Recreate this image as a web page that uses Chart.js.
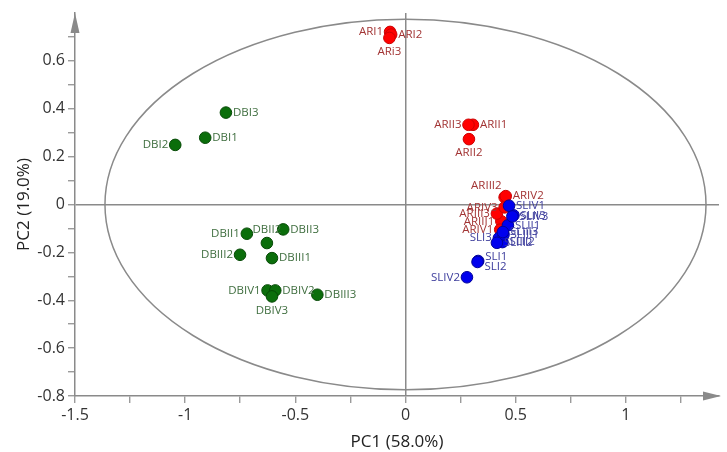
<!DOCTYPE html>
<html>
<head>
<meta charset="utf-8">
<script src="https://cdn.jsdelivr.net/npm/chart.js@4"></script>
<style>
  html, body { margin: 0; padding: 0; background: #fff; }
  #wrap { width: 727px; height: 452px; }
</style>
</head>
<body>
<div id="wrap"><canvas id="pcaChart" width="727" height="452"></canvas></div>
<script>
// Sample scores (PC1, PC2)
const greenNames = ['DBI1', 'DBI2', 'DBI3', 'DBII1', 'DBII2', 'DBII3', 'DBIII1', 'DBIII2', 'DBIII3', 'DBIV1', 'DBIV2', 'DBIV3'];
const greenX = [-0.909, -1.045, -0.815, -0.72, -0.629, -0.555, -0.606, -0.751, -0.40, -0.626, -0.591, -0.606];
const greenY = [0.279, 0.249, 0.384, -0.122, -0.161, -0.104, -0.224, -0.21, -0.377, -0.359, -0.359, -0.384];

const redNames = ['ARI1', 'ARI2', 'ARi3', 'ARII1', 'ARII2', 'ARII3', 'ARIII1', 'ARIII2', 'ARIII3', 'ARIV1', 'ARIV2', 'ARIV3'];
const redX = [-0.07, -0.065, -0.073, 0.306, 0.288, 0.286, 0.435, 0.45, 0.415, 0.43, 0.455, 0.45];
const redY = [0.721, 0.71, 0.696, 0.333, 0.273, 0.333, -0.07, 0.03, -0.038, -0.105, 0.035, -0.012];

const blueNames = ['SLI1', 'SLI2', 'SLI3', 'SLII1', 'SLII2', 'SLII3', 'SLIII1', 'SLIII2', 'SLIII3', 'SLIV1', 'SLIV2', 'SLIV3'];
const blueX = [0.33, 0.327, 0.424, 0.465, 0.44, 0.49, 0.445, 0.415, 0.442, 0.47, 0.279, 0.485];
const blueY = [-0.236, -0.24, -0.14, -0.087, -0.157, -0.045, -0.125, -0.16, -0.115, -0.005, -0.304, -0.05];

// Hotelling ellipse half-axes (PC1, PC2)
const ellipseRx = 1.364;
const ellipseRy = 0.774;

// where each label sits next to its point: r, l, t, b, tl, ru, rd
const greenSide = ['r', 'l', 'r', 'l', 't', 'r', 'r', 'l', 'r', 'l', 'r', 'b'];
const redSide = ['l', 'r', 'b', 'r', 'b', 'l', 'l', 'tl', 'l', 'l', 'r', 'l'];
const blueSide = ['ru', 'rd', 'l', 'r', 'r', 'r', 'r', 'r', 'r', 'r', 'l', 'r'];

const axisGray = '#8a8a8a';
const baseFont = '"Open Sans", "Noto Sans", sans-serif';

function toPoints(xs, ys) {
  return xs.map((x, i) => ({ x: x, y: ys[i] }));
}

// Ellipse, arrows on the axes
const decorPlugin = {
  id: 'decor',
  beforeDatasetsDraw(chart) {
    const c = chart.ctx;
    const xs = chart.scales.x, ys = chart.scales.y;
    const cx = xs.getPixelForValue(0), cy = ys.getPixelForValue(0);
    const rx = xs.getPixelForValue(ellipseRx) - cx;
    const ry = cy - ys.getPixelForValue(ellipseRy);
    c.save();
    c.strokeStyle = axisGray;
    c.lineWidth = 1.5;
    c.beginPath();
    c.ellipse(cx, cy, rx, ry, 0, 0, Math.PI * 2);
    c.stroke();
    c.restore();
  },
  afterDraw(chart) {
    const c = chart.ctx;
    const a = chart.chartArea;
    c.save();
    c.fillStyle = axisGray;
    // y arrow
    c.beginPath();
    c.moveTo(a.left, a.top);
    c.lineTo(a.left - 4.5, a.top + 20);
    c.lineTo(a.left + 4.5, a.top + 20);
    c.closePath();
    c.fill();
    // x arrow
    c.beginPath();
    c.moveTo(a.right + 2, a.bottom);
    c.lineTo(a.right - 16, a.bottom - 4.5);
    c.lineTo(a.right - 16, a.bottom + 4.5);
    c.closePath();
    c.fill();
    c.restore();
  }
};

// Sample name next to each point
const labelPlugin = {
  id: 'pointLabels',
  afterDatasetsDraw(chart) {
    const c = chart.ctx;
    c.save();
    c.font = '11.5px ' + baseFont;
    chart.data.datasets.forEach((ds, di) => {
      const meta = chart.getDatasetMeta(di);
      c.fillStyle = ds.labelColor;
      meta.data.forEach((pt, i) => {
        const side = ds.sides[i];
        let x = pt.x, y = pt.y;
        c.textBaseline = 'middle';
        if (side === 'r') { c.textAlign = 'left'; x += 7; }
        else if (side === 'ru') { c.textAlign = 'left'; x += 7; y -= 4; }
        else if (side === 'rd') { c.textAlign = 'left'; x += 7; y += 5; }
        else if (side === 'l') { c.textAlign = 'right'; x -= 7; }
        else if (side === 't') { c.textAlign = 'center'; y -= 13; }
        else if (side === 'b') { c.textAlign = 'center'; y += 14; }
        else if (side === 'tl') { c.textAlign = 'right'; x -= 3; y -= 12; }
        c.fillText(ds.names[i], x, y);
      });
    });
    c.restore();
  }
};

function niceLabel(v, step) {
  const r = Math.round(v * 100) / 100;
  if (Math.abs(r / step - Math.round(r / step)) > 1e-6) return '';
  return String(r);
}

const ctx = document.getElementById('pcaChart').getContext('2d');
const pcaChart = new Chart(ctx, {
  type: 'scatter',
  data: {
    datasets: [
      {
        label: 'DB',
        data: toPoints(greenX, greenY),
        names: greenNames,
        sides: greenSide,
        labelColor: '#3f6e3f',
        backgroundColor: '#0b6e0b',
        borderColor: '#064a06',
        borderWidth: 1,
        pointRadius: 5.8
      },
      {
        label: 'SL',
        data: toPoints(blueX, blueY),
        names: blueNames,
        sides: blueSide,
        labelColor: '#3c3c9c',
        backgroundColor: '#0000ee',
        borderColor: '#00009a',
        borderWidth: 1,
        pointRadius: 5.8
      },
      {
        label: 'AR',
        data: toPoints(redX, redY),
        names: redNames,
        sides: redSide,
        labelColor: '#a23434',
        backgroundColor: '#ff0000',
        borderColor: '#cc0000',
        borderWidth: 1,
        pointRadius: 5.8
      }
    ]
  },
  options: {
    responsive: false,
    animation: false,
    devicePixelRatio: 1,
    layout: { padding: { left: 0, right: 8, top: 13, bottom: 0 } },
    plugins: {
      legend: { display: false },
      tooltip: { enabled: false }
    },
    elements: { point: { hoverRadius: 5.8 } },
    scales: {
      x: {
        type: 'linear',
        min: -1.5,
        max: 1.423,
        afterFit(scale) { scale.height = 56; },
        border: { display: true, color: axisGray, width: 1.5 },
        grid: {
          drawOnChartArea: true,
          drawTicks: true,
          tickLength: 7,
          lineWidth: 1.5,
          color: (c) => (c.tick && Math.abs(c.tick.value) < 1e-6 ? axisGray : 'rgba(0,0,0,0)'),
          tickColor: axisGray,
          tickWidth: 1.2
        },
        ticks: {
          stepSize: 0.25,
          includeBounds: false,
          autoSkip: false,
          maxRotation: 0,
          padding: 3,
          color: '#333',
          font: { family: baseFont, size: 16 },
          callback: (v) => niceLabel(v, 0.5)
        },
        title: {
          display: true,
          text: 'PC1 (58.0%)',
          color: '#222',
          font: { family: baseFont, size: 17 },
          padding: { top: 0, bottom: 0 }
        }
      },
      y: {
        type: 'linear',
        min: -0.8,
        max: 0.8,
        afterFit(scale) { scale.width = 75; },
        border: { display: true, color: axisGray, width: 1.5 },
        grid: {
          drawOnChartArea: true,
          drawTicks: true,
          tickLength: 7,
          lineWidth: 1.5,
          color: (c) => (c.tick && Math.abs(c.tick.value) < 1e-6 ? axisGray : 'rgba(0,0,0,0)'),
          tickColor: (c) => (c.tick && c.tick.value > 0.75 ? 'rgba(0,0,0,0)' : axisGray),
          tickWidth: 1.2
        },
        ticks: {
          stepSize: 0.1,
          includeBounds: false,
          autoSkip: false,
          padding: 3,
          color: '#333',
          font: { family: baseFont, size: 16 },
          callback: (v) => (v > 0.75 ? '' : niceLabel(v, 0.2))
        },
        title: {
          display: true,
          text: 'PC2 (19.0%)',
          color: '#222',
          font: { family: baseFont, size: 17 },
          padding: { top: 14, bottom: 0 }
        }
      }
    }
  },
  plugins: [decorPlugin, labelPlugin]
});
</script>
</body>
</html>
